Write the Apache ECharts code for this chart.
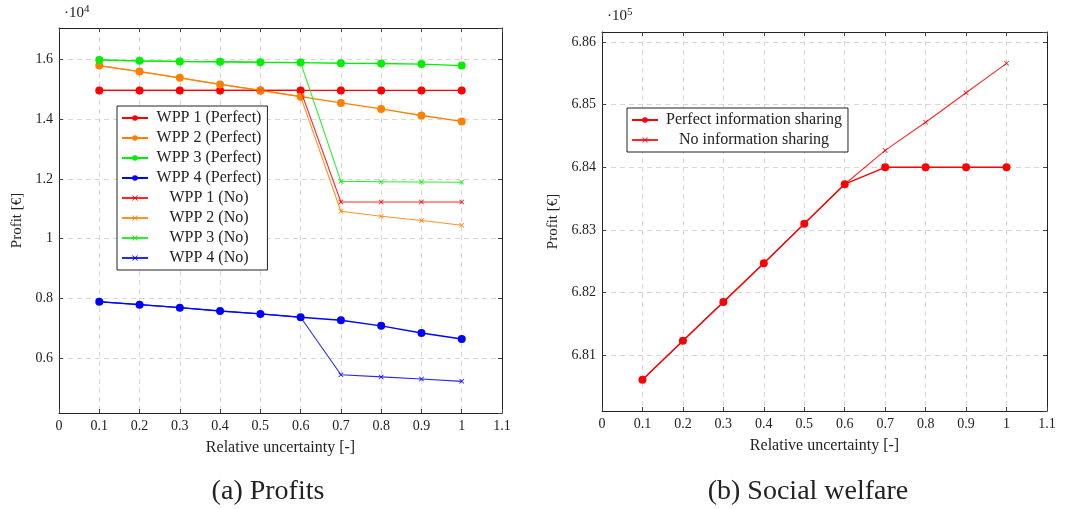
<!DOCTYPE html>
<html>
<head>
<meta charset="utf-8">
<script src="https://cdn.jsdelivr.net/npm/echarts@6/dist/echarts.min.js"></script>
<style>
html,body{margin:0;padding:0;background:#fff;}
#chart{width:1070px;height:509px;}
</style>
</head>
<body>
<div id="chart"></div>
<script>
// ---- data (profits in units of 10^4 EUR, welfare in units of 10^5 EUR) ----
const uncertainty = [0.1, 0.2, 0.3, 0.4, 0.5, 0.6, 0.7, 0.8, 0.9, 1.0];

const wpp1Perfect = [1.497, 1.497, 1.497, 1.497, 1.497, 1.497, 1.497, 1.497, 1.497, 1.497];
const wpp2Perfect = [1.580, 1.560, 1.539, 1.517, 1.497, 1.476, 1.455, 1.435, 1.413, 1.393];
const wpp3Perfect = [1.599, 1.596, 1.594, 1.593, 1.591, 1.590, 1.588, 1.587, 1.585, 1.580];
const wpp4Perfect = [0.789, 0.779, 0.769, 0.758, 0.748, 0.737, 0.727, 0.708, 0.684, 0.664];

const wpp1No = [1.497, 1.497, 1.497, 1.497, 1.497, 1.497, 1.123, 1.123, 1.123, 1.123];
const wpp2No = [1.580, 1.560, 1.539, 1.517, 1.497, 1.476, 1.092, 1.075, 1.061, 1.045];
const wpp3No = [1.599, 1.596, 1.594, 1.593, 1.591, 1.590, 1.192, 1.191, 1.190, 1.189];
const wpp4No = [0.789, 0.779, 0.769, 0.758, 0.748, 0.737, 0.544, 0.537, 0.530, 0.522];

const welfarePerfect = [6.8061, 6.8123, 6.8185, 6.8247, 6.8310, 6.8373, 6.8400, 6.8400, 6.8400, 6.8400];
const welfareNo      = [6.8061, 6.8123, 6.8185, 6.8247, 6.8310, 6.8373, 6.8427, 6.8472, 6.8519, 6.8566];

const profitNames = ['WPP 1 (Perfect)', 'WPP 2 (Perfect)', 'WPP 3 (Perfect)', 'WPP 4 (Perfect)',
                     'WPP 1 (No)', 'WPP 2 (No)', 'WPP 3 (No)', 'WPP 4 (No)'];
const welfareNames = ['Perfect information sharing', 'No information sharing'];
const colors = ['#ff0000', '#ff8000', '#00f000', '#0000ff'];

// ---- styling helpers ----
const FONT = '"Liberation Serif", "DejaVu Serif", serif';
const CROSS = 'path://M0,1L1,0L5,4L9,0L10,1L6,5L10,9L9,10L5,6L1,10L0,9L4,5Z';
const pair = arr => uncertainty.map((x, i) => [x, arr[i]]);

function perfectSeries(name, data, color, xi, yi) {
  return { type: 'line', name, data: pair(data), xAxisIndex: xi, yAxisIndex: yi,
    symbol: 'circle', symbolSize: 8, color,
    lineStyle: { width: 1.4, color }, itemStyle: { color }, z: 3 };
}
function noSeries(name, data, color, xi, yi) {
  return { type: 'line', name, data: pair(data), xAxisIndex: xi, yAxisIndex: yi,
    symbol: CROSS, symbolSize: 5, color,
    lineStyle: { width: 1.1, color, opacity: 0.85 }, itemStyle: { color }, z: 4 };
}

const tickFmt = v => String(Math.round(v * 10) / 10);

function xAxes(gi) {
  return [{
    type: 'value', gridIndex: gi, min: 0, max: 1.1, interval: 0.1,
    name: 'Relative uncertainty [-]', nameLocation: 'middle', nameGap: 27,
    nameTextStyle: { fontFamily: FONT, fontSize: 16, color: '#222' },
    axisLine: { show: true, onZero: false, lineStyle: { color: '#222', width: 1 } },
    axisTick: { show: true, inside: true, length: 4, lineStyle: { color: '#444' } },
    axisLabel: { formatter: tickFmt, fontFamily: FONT, fontSize: 14, color: '#222', margin: 6 },
    splitLine: { show: true, showMinLine: false, showMaxLine: false,
      lineStyle: { color: '#d8d8d8', type: [5, 4], width: 1 } }
  }, {
    type: 'value', gridIndex: gi, position: 'top', min: 0, max: 1.1, interval: 0.1,
    axisLine: { show: true, onZero: false, lineStyle: { color: '#222', width: 1 } },
    axisTick: { show: true, inside: true, length: 4, lineStyle: { color: '#444' } },
    axisLabel: { show: false }, splitLine: { show: false }
  }];
}

function yAxes(gi, min, max, step, digits, name, nameGap) {
  const fmt = v => (digits === 1 ? String(Math.round(v * 10) / 10) : v.toFixed(digits));
  return [{
    type: 'value', gridIndex: gi, min, max, minInterval: step, maxInterval: step,
    name, nameLocation: 'middle', nameGap,
    nameTextStyle: { fontFamily: FONT, fontSize: 15, color: '#222' },
    axisLine: { show: true, onZero: false, lineStyle: { color: '#222', width: 1 } },
    axisTick: { show: true, inside: true, length: 4, lineStyle: { color: '#444' } },
    axisLabel: { formatter: fmt, fontFamily: FONT, fontSize: 14, color: '#222', margin: 6,
      showMinLabel: false, showMaxLabel: false },
    splitLine: { show: true, showMinLine: false, showMaxLine: false,
      lineStyle: { color: '#d8d8d8', type: [5, 4], width: 1 } }
  }, {
    type: 'value', gridIndex: gi, position: 'right', min, max, minInterval: step, maxInterval: step,
    axisLine: { show: true, onZero: false, lineStyle: { color: '#222', width: 1 } },
    axisTick: { show: true, inside: true, length: 4, lineStyle: { color: '#444' } },
    axisLabel: { show: false }, splitLine: { show: false }
  }];
}

const chart = echarts.init(document.getElementById('chart'), null, { renderer: 'canvas' });

const series = [
  perfectSeries(profitNames[0], wpp1Perfect, colors[0], 0, 0),
  perfectSeries(profitNames[1], wpp2Perfect, colors[1], 0, 0),
  perfectSeries(profitNames[2], wpp3Perfect, colors[2], 0, 0),
  perfectSeries(profitNames[3], wpp4Perfect, colors[3], 0, 0),
  noSeries(profitNames[4], wpp1No, colors[0], 0, 0),
  noSeries(profitNames[5], wpp2No, colors[1], 0, 0),
  noSeries(profitNames[6], wpp3No, colors[2], 0, 0),
  noSeries(profitNames[7], wpp4No, colors[3], 0, 0),
  perfectSeries(welfareNames[0], welfarePerfect, colors[0], 2, 2),
  noSeries(welfareNames[1], welfareNo, colors[0], 2, 2)
];

const legendBase = {
  orient: 'vertical', backgroundColor: '#fff', borderColor: '#222', borderWidth: 1,
  borderRadius: 0, itemWidth: 26, itemHeight: 7, itemGap: 4, padding: [4, 6, 4, 4],
  selectedMode: false,
  textStyle: { fontFamily: FONT, fontSize: 16, color: '#222', padding: [0, 0, 0, 0] }
};

chart.setOption({
  animation: false,
  backgroundColor: '#fff',
  grid: [
    { left: 59, right: 568, top: 28, bottom: 96 },
    { left: 602, right: 23, top: 32, bottom: 98 }
  ],
  xAxis: [...xAxes(0), ...xAxes(1)],
  yAxis: [
    ...yAxes(0, 0.416, 1.706, 0.2, 1, 'Profit [€]', 34),
    ...yAxes(1, 6.8011, 6.8616, 0.01, 2, 'Profit [€]', 41)
  ],
  legend: [
    Object.assign({}, legendBase, {
      left: 117, top: 106, data: profitNames,
      formatter: n => '{c|' + n + '}',
      textStyle: Object.assign({}, legendBase.textStyle, {
        rich: { c: { width: 112, align: 'center', fontFamily: FONT, fontSize: 16, color: '#222' } }
      })
    }),
    Object.assign({}, legendBase, {
      left: 627, top: 108, data: welfareNames,
      formatter: n => '{c|' + n + '}',
      textStyle: Object.assign({}, legendBase.textStyle, {
        rich: { c: { width: 182, align: 'center', fontFamily: FONT, fontSize: 16, color: '#222' } }
      })
    })
  ],
  graphic: [
    { type: 'text', left: 64, top: 4, style: { text: '·10{s|4}', font: '15px ' + FONT, fill: '#222',
      rich: { s: { fontSize: 11, fontFamily: FONT, verticalAlign: 'top', padding: [0, 0, 7, 0], fill: '#222' } } } },
    { type: 'text', left: 607, top: 7, style: { text: '·10{s|5}', font: '15px ' + FONT, fill: '#222',
      rich: { s: { fontSize: 11, fontFamily: FONT, verticalAlign: 'top', padding: [0, 0, 7, 0], fill: '#222' } } } },
    { type: 'text', x: 268, y: 492, style: { text: '(a) Profits', font: '28px ' + FONT, fill: '#222',
      textAlign: 'center', textVerticalAlign: 'middle' } },
    { type: 'text', x: 808, y: 492, style: { text: '(b) Social welfare', font: '28px ' + FONT, fill: '#222',
      textAlign: 'center', textVerticalAlign: 'middle' } }
  ],
  series
});
</script>
</body>
</html>
